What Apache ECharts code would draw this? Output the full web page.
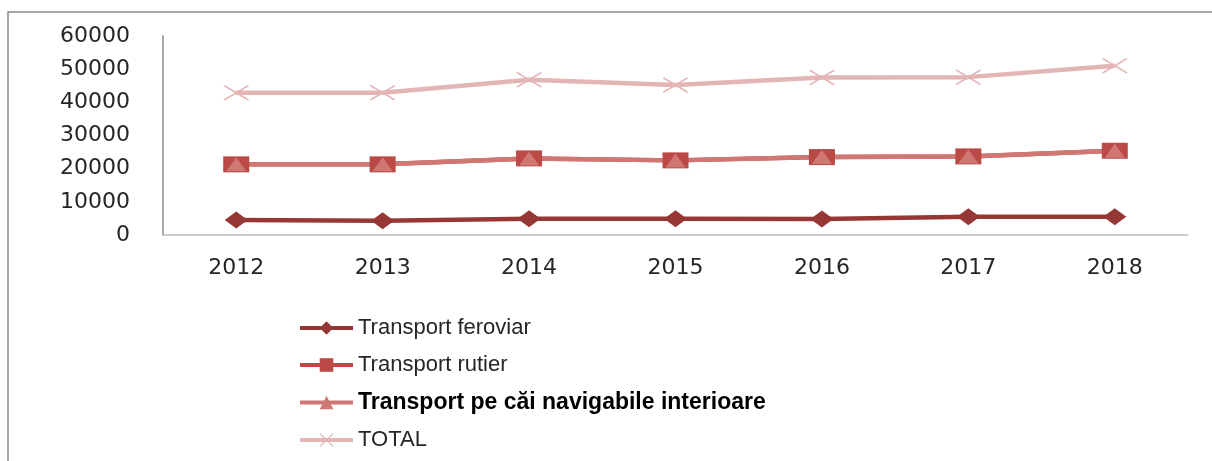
<!DOCTYPE html>
<html>
<head>
<meta charset="utf-8">
<script src="https://cdn.jsdelivr.net/npm/echarts@6/dist/echarts.min.js"></script>
<style>
  html, body { margin: 0; padding: 0; background: #fff; }
  #chart { width: 1212px; height: 461px; }
</style>
</head>
<body>
<div id="chart"></div>
<script>
const years = ['2012', '2013', '2014', '2015', '2016', '2017', '2018']
const feroviar = [4500, 4300, 4900, 4900, 4800, 5500, 5500]
const rutier = [21300, 21300, 23100, 22500, 23500, 23700, 25400]
const navigabile = [21300, 21300, 23100, 22500, 23500, 23700, 25400]
const total = [42900, 42900, 46800, 45200, 47500, 47600, 51000]

const names = [
  'Transport feroviar',
  'Transport rutier',
  'Transport pe căi navigabile interioare',
  'TOTAL'
]

// X marker drawn as two thin bars, stretched to symbolSize
const crossPath = 'path://M0,0L1.5,0L25,14L25,15L23.5,15L0,1Z M23.5,0L25,0L25,1L1.5,15L0,15L0,14Z'

const chart = echarts.init(document.getElementById('chart'))
chart.setOption({
  animation: false,
  backgroundColor: '#fff',
  graphic: [
    {
      type: 'rect',
      shape: { x: 8, y: 12, width: 1230, height: 480 },
      style: { fill: 'none', stroke: '#8a8a8a', lineWidth: 1.5 },
      silent: true
    }
  ],
  grid: {
    left: 163,
    right: 24,
    top: 36,
    bottom: 226
  },
  legend: {
    orient: 'vertical',
    left: 293,
    top: 312,
    itemWidth: 53,
    itemHeight: 17,
    itemGap: 15,
    lineStyle: { width: 4 },
    textStyle: {
      fontFamily: 'Liberation Sans',
      fontSize: 22,
      color: '#262626'
    },
    data: [
      { name: names[0] },
      { name: names[1] },
      { name: names[2], textStyle: { fontWeight: 'bold', fontSize: 23, color: '#000' } },
      { name: names[3] }
    ]
  },
  xAxis: {
    type: 'category',
    data: years,
    boundaryGap: true,
    axisLine: { lineStyle: { color: '#bdbdbd', width: 1.5 } },
    axisTick: { show: false },
    axisLabel: {
      margin: 22,
      fontFamily: 'DejaVu Sans',
      fontSize: 22,
      color: '#262626'
    }
  },
  yAxis: {
    type: 'value',
    min: 0,
    max: 60000,
    interval: 10000,
    splitLine: { show: false },
    axisLine: { show: true, lineStyle: { color: '#8c8c8c', width: 1.5 } },
    axisTick: { show: false },
    axisLabel: {
      margin: 33,
      fontFamily: 'DejaVu Sans',
      fontSize: 22,
      color: '#262626',
      formatter: function(v) {
        return String(v)
      }
    }
  },
  series: [
    {
      name: names[0],
      type: 'line',
      data: feroviar,
      symbol: 'diamond',
      symbolSize: [23, 17],
      lineStyle: { color: '#953735', width: 4.5 },
      itemStyle: { color: '#953735' }
    },
    {
      name: names[1],
      type: 'line',
      data: rutier,
      symbol: 'rect',
      symbolSize: [26, 16],
      lineStyle: { color: '#bb4a47', width: 4.5 },
      itemStyle: { color: '#bb4a47' }
    },
    {
      name: names[2],
      type: 'line',
      data: navigabile,
      symbol: 'triangle',
      symbolSize: [20, 14],
      lineStyle: { color: '#d07774', width: 4.5 },
      itemStyle: { color: '#d07774' }
    },
    {
      name: names[3],
      type: 'line',
      data: total,
      symbol: crossPath,
      symbolSize: [25, 15],
      lineStyle: { color: '#e3b5b4', width: 4.5 },
      itemStyle: { color: '#e3b5b4' }
    }
  ]
})
</script>
</body>
</html>
